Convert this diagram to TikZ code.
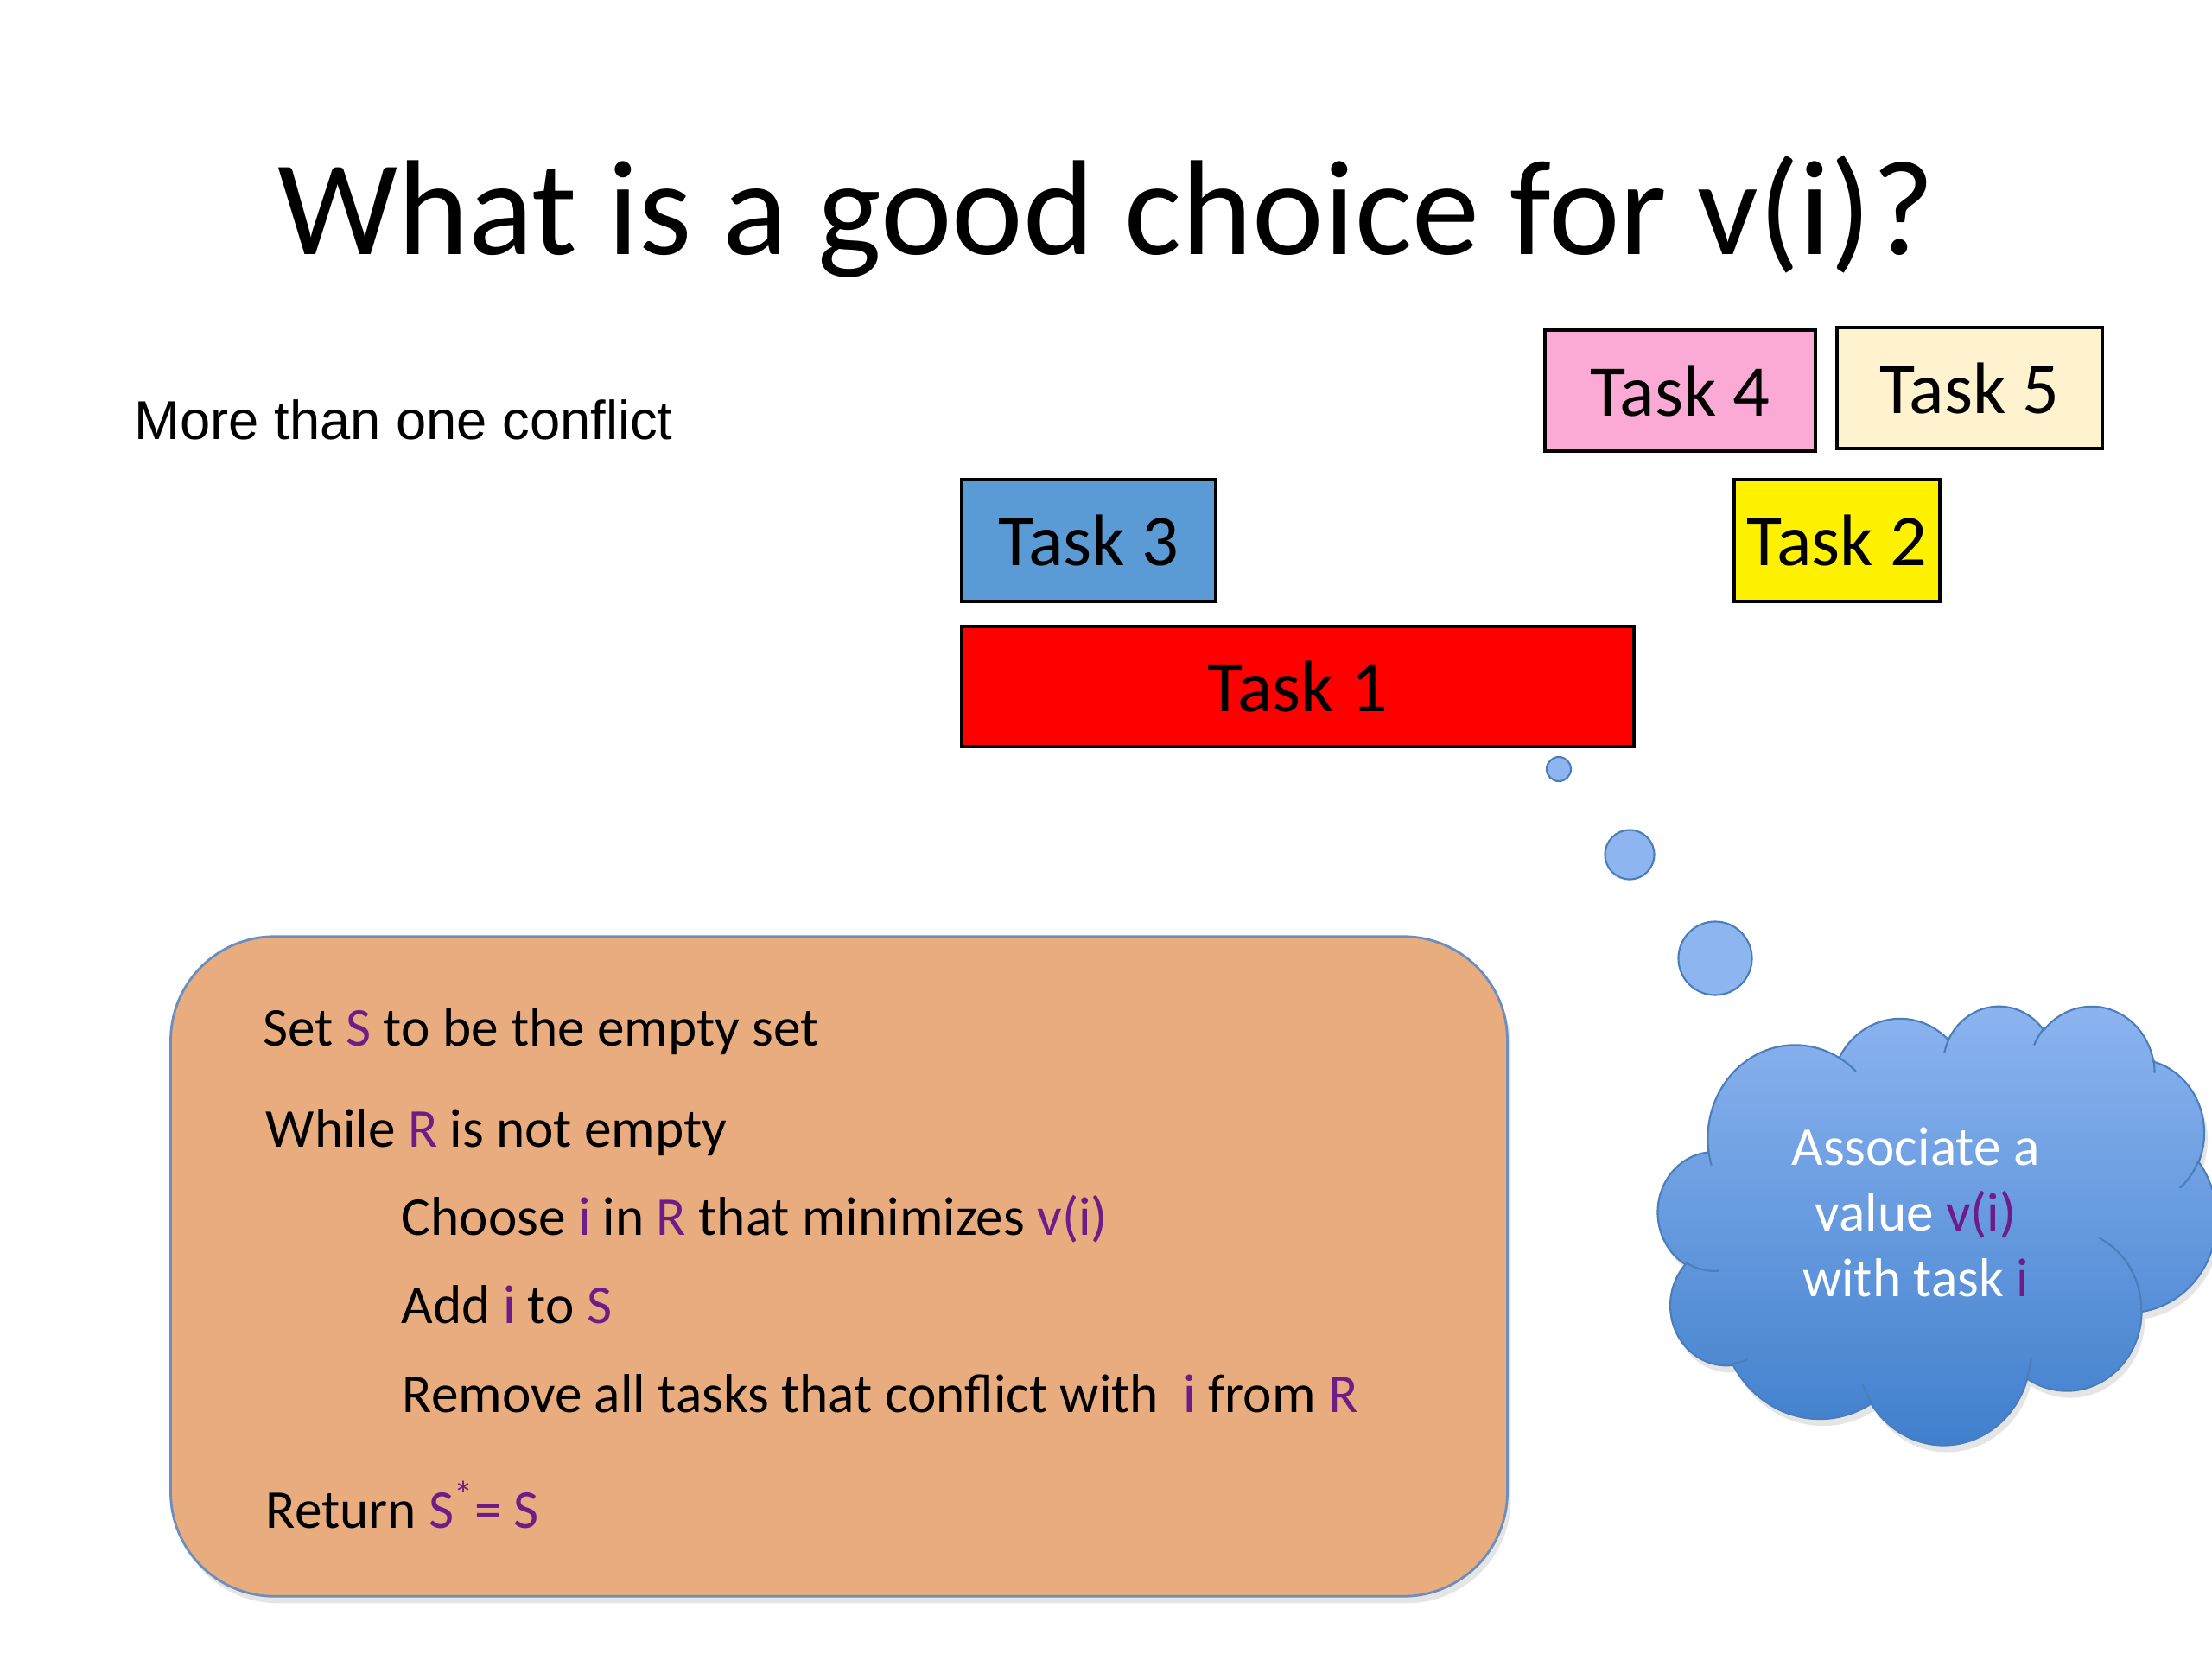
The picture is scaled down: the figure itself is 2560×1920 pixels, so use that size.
\documentclass[tikz,border=0pt]{standalone}
\usepackage{fontspec}
\setmainfont{Carlito}
\newfontfamily\arialfont{Liberation Sans}
\usetikzlibrary{shadows}
\definecolor{pptpurple}{RGB}{110,28,135}
\definecolor{taskpink}{RGB}{250,170,212}
\definecolor{taskcream}{RGB}{255,242,206}
\definecolor{taskblue}{RGB}{91,155,213}
\definecolor{orangebox}{RGB}{232,172,126}
\definecolor{boxborder}{RGB}{108,142,191}
\definecolor{cloudtop}{RGB}{141,181,240}
\definecolor{cloudbot}{RGB}{62,126,204}
\definecolor{cloudborder}{RGB}{74,126,187}
\definecolor{bubblefill}{RGB}{141,181,240}
\begin{document}
\begin{tikzpicture}[x=0.01cm,y=-0.01cm,
  taskbox/.style={draw=black, line width=1.2pt, inner sep=0pt, font=\fontsize{24}{29}\selectfont},
  bubble/.style={circle, draw=cloudborder, line width=0.6pt, fill=bubblefill, inner sep=0pt},
  algoline/.style={anchor=base west, inner sep=0pt, font=\fontsize{18}{22}\selectfont},
  cloudline/.style={anchor=base, inner sep=0pt, text=white, font=\fontsize{18}{22}\selectfont},
  % DrawingML arcTo: radii rx, ry, visual start angle, visual sweep
  ooarc/.style n args={4}{x radius=#1, y radius=#2,
    start angle={atan2((#1)*sin(#3),(#2)*cos(#3))},
    delta angle={(#4) + Mod(atan2((#1)*sin((#3)+(#4)),(#2)*cos((#3)+(#4))) - atan2((#1)*sin(#3),(#2)*cos(#3)) - (#4) + 180, 360) - 180}}]
\path[use as bounding box, fill=white] (0,0) rectangle (2560,1920);

% title and subtitle
\node[anchor=base, inner sep=0pt, font=\fontsize{44.5}{53}\selectfont] (title) at (1280,294) {What is a good choice for v(i)?};
\node[anchor=base west, inner sep=0pt, font=\arialfont\fontsize{18}{22}\selectfont] (sub) at (155,508) {More than one conflict};

% tasks
\node[taskbox, fill=taskpink, minimum width=3.13cm, minimum height=1.40cm] (t4) at (1944.5,452) {Task 4};
\node[taskbox, fill=taskcream, minimum width=3.07cm, minimum height=1.40cm] (t5) at (2279.5,449) {Task 5};
\node[taskbox, fill=taskblue, minimum width=2.94cm, minimum height=1.41cm] (t3) at (1260,625.5) {Task 3};
\node[taskbox, fill=yellow, minimum width=2.38cm, minimum height=1.41cm] (t2) at (2126,625.5) {Task 2};
\node[taskbox, fill=red, minimum width=7.78cm, minimum height=1.39cm] (t1) at (1502,794.5) {Task 1};

% thought bubbles
\node[bubble, minimum size=0.28cm] (b1) at (1804,890) {};
\node[bubble, minimum size=0.57cm] (b2) at (1886,989) {};
\node[bubble, minimum size=0.85cm] (b3) at (1985,1109) {};

% cloud (PowerPoint cloud outline, path units = 1/10 of the 43200 box)
\begin{scope}[shift={(1919,1163)}]
\begin{scope}[x=0.0014954cm, y=-0.001169cm]
\path[draw=cloudborder, line width=0.6pt, top color=cloudtop, bottom color=cloudbot,
      drop shadow={opacity=0.2, shadow xshift=0.4mm, shadow yshift=-0.8mm}]
  (390,1437)
  arc[ooarc={675.3}{919.0}{-190.487}{123.781}]
  arc[ooarc={533.3}{726.7}{-144.102}{89.945}]
  arc[ooarc={436.5}{594.5}{-145.808}{99.723}]
  arc[ooarc={485.7}{659.5}{-130.986}{117.242}]
  arc[ooarc={533.3}{727.3}{-78.709}{109.027}]
  arc[ooarc={677.5}{922.0}{-46.267}{130.269}]
  arc[ooarc={578.5}{786.7}{0.625}{114.033}]
  arc[ooarc={675.2}{921.5}{22.452}{115.173}]
  arc[ooarc={772.0}{1054.3}{66.243}{75.711}]
  arc[ooarc={436.0}{591.8}{-274.942}{146.736}]
  arc[ooarc={434.5}{594.5}{-246.829}{152.519}]
  -- cycle;
\draw[cloudborder, line width=0.6pt]
  (469.3,2617.7)  arc[ooarc={434.5}{594.5}{86.742}{26.430}]
  (692.8,3489.9)  arc[ooarc={436.0}{591.8}{73.610}{11.447}]
  (1647.8,3909.0) arc[ooarc={675.2}{921.5}{137.624}{14.081}]
  (2882.7,3475.1) arc[ooarc={675.2}{921.5}{6.453}{15.998}]
  (3412.9,2295.4) arc[ooarc={578.5}{786.7}{-70.292}{70.917}]
  (4179.8,1535.4) arc[ooarc={533.3}{727.3}{30.318}{27.752}]
  (3832.4,542.6)  arc[ooarc={485.7}{659.5}{-13.744}{14.864}]
  (2907.8,395.2)  arc[ooarc={485.7}{659.5}{-149.181}{18.195}]
  (2214.1,472.0)  arc[ooarc={436.5}{594.5}{-163.494}{17.686}]
  (1400.0,519.2)  arc[ooarc={675.3}{919.0}{-66.707}{12.319}]
  (412.7,1578.9)  arc[ooarc={675.3}{919.0}{157.654}{11.858}];
\end{scope}
\end{scope}
\node[cloudline] (c1) at (2217,1348) {Associate a};
\node[cloudline] (c2) at (2217,1424) {value \textcolor{pptpurple}{v(i)}};
\node[cloudline] (c3) at (2217,1500) {with task \textcolor{pptpurple}{i}};

% algorithm box
\node[draw=boxborder, line width=0.8pt, fill=orangebox, rounded corners=1.2cm,
      minimum width=15.46cm, minimum height=7.63cm,
      drop shadow={opacity=0.2, shadow xshift=0.4mm, shadow yshift=-0.8mm}] (algo) at (971,1465.5) {};
\node[algoline] (l1) at (304,1210) {Set \textcolor{pptpurple}{S} to be the empty set};
\node[algoline] (l2) at (307,1327) {While \textcolor{pptpurple}{R} is not empty};
\node[algoline] (l3) at (464,1429) {Choose \textcolor{pptpurple}{i} in \textcolor{pptpurple}{R} that minimizes \textcolor{pptpurple}{v(i)}};
\node[algoline] (l4) at (464,1531) {Add \textcolor{pptpurple}{i} to \textcolor{pptpurple}{S}};
\node[algoline] (l5) at (465,1634) {Remove all tasks that conflict with\ \ \textcolor{pptpurple}{i} from \textcolor{pptpurple}{R}};
\node[algoline] (l6) at (307,1768) {Return \textcolor{pptpurple}{S\textsuperscript{*}= S}};
\end{tikzpicture}
\end{document}
